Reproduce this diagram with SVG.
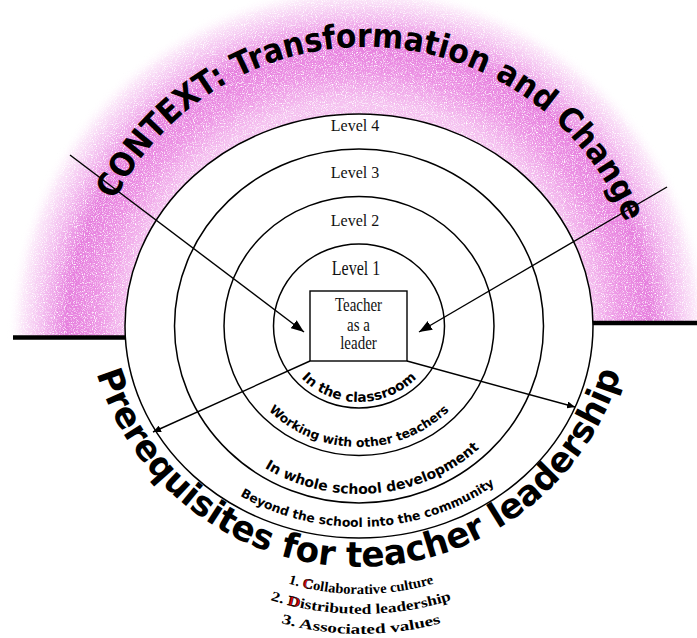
<svg xmlns="http://www.w3.org/2000/svg" width="697" height="638" viewBox="0 0 697 638">
<style>
.ring{fill:none;stroke:#000;stroke-width:1.5}
.lvl{font-family:"Liberation Serif",serif;font-size:16px;fill:#111;text-anchor:middle}
.box{font-family:"Liberation Serif",serif;font-size:15px;fill:#111;text-anchor:middle}
.arc{font-family:"DejaVu Sans",sans-serif;font-weight:bold;fill:#000}
.big{font-family:"DejaVu Sans",sans-serif;font-weight:bold;fill:#000}
.list{font-family:"Liberation Serif",serif;font-weight:bold;font-size:14px;fill:#000}
.conn{stroke:#000;stroke-width:1.4;fill:none}
.bar{stroke:#000;stroke-width:4.5}
</style>
<defs>
<radialGradient id="pinkGrad" gradientUnits="userSpaceOnUse" cx="359" cy="335" r="352">
<stop offset="0" stop-color="#f6c8f1"/>
<stop offset="0.66" stop-color="#f5c2f0"/>
<stop offset="0.75" stop-color="#ec92e4"/>
<stop offset="0.83" stop-color="#e67ede"/>
<stop offset="0.9" stop-color="#f3bcef"/>
<stop offset="0.96" stop-color="#fbe8f9"/>
<stop offset="1" stop-color="#ffffff" stop-opacity="0"/>
</radialGradient>
<filter id="speckle" filterUnits="userSpaceOnUse" x="0" y="0" width="697" height="638">
<feTurbulence type="fractalNoise" baseFrequency="0.9" numOctaves="2" seed="4" result="n"/>
<feColorMatrix in="n" type="matrix" values="0 0 0 0 0  0 0 0 0 0  0 0 0 0 0  3 0 0 0 -0.55" result="m"/>
<feComposite in="SourceGraphic" in2="m" operator="in"/>
</filter>
<marker id="headBig" viewBox="0 0 13 10" refX="13" refY="5" markerWidth="13" markerHeight="10" markerUnits="userSpaceOnUse" orient="auto">
<path d="M0,0 L13,5 L0,10 z" fill="#000"/>
</marker>
<marker id="headSmall" viewBox="0 0 8 7" refX="8" refY="3.5" markerWidth="8" markerHeight="7" markerUnits="userSpaceOnUse" orient="auto">
<path d="M0,0 L8,3.5 L0,7 z" fill="#000"/>
</marker>
<path id="pContext" d="M114.6,200.4 A281,281 0 0 1 625.5,222.7"/>
<path id="pPrereq" d="M96.5,373.1 A274,274 0 0 0 620.5,373.1"/>
<path id="p1" d="M280,326 A79,76 0 0 0 438,326"/>
<path id="p2" d="M233,326 A126,121 0 0 0 485,326"/>
<path id="p3" d="M183,326 A176,168 0 0 0 535,326"/>
<path id="p4" d="M137,326 A222,201 0 0 0 581,326"/>
<path id="l1" d="M261,574 A260,260 0 0 0 461,574"/>
<path id="l2" d="M251,593 A300,300 0 0 0 471,593"/>
<path id="l3" d="M251,613 A300,300 0 0 0 471,613"/>
</defs>

<g id="context">
<path d="M0,339 L697,322 L697,0 L0,0 Z" fill="url(#pinkGrad)" filter="url(#speckle)"/>
<line class="bar" x1="13" y1="337.5" x2="127" y2="337.5"/>
<line class="bar" x1="593" y1="323" x2="697" y2="323"/>
<text class="big" font-size="33"><textPath href="#pContext" textLength="642" lengthAdjust="spacingAndGlyphs">CONTEXT: Transformation and Change</textPath></text>
</g>

<g id="level4">
<ellipse class="ring" cx="359" cy="326" rx="234" ry="212" style="fill:#fff"/>
<text class="lvl" x="355" y="131">Level 4</text>
</g>
<g id="level3">
<ellipse class="ring" cx="359" cy="326" rx="184.5" ry="177"/>
<text class="lvl" x="355" y="178">Level 3</text>
</g>
<g id="level2">
<ellipse class="ring" cx="359" cy="326" rx="135" ry="129.5"/>
<text class="lvl" x="355" y="226">Level 2</text>
</g>
<g id="level1">
<ellipse class="ring" cx="359" cy="326" rx="85.5" ry="82"/>
<text class="lvl" transform="translate(356,275) scale(1,1.3)">Level 1</text>
</g>

<g id="teacher-leader">
<rect x="310" y="291" width="97" height="70" fill="#fff" stroke="#000" stroke-width="1.4"/>
<text class="box" transform="translate(358.5,311) scale(1,1.2)">Teacher</text>
<text class="box" transform="translate(358.5,331) scale(1,1.2)">as a</text>
<text class="box" transform="translate(358.5,349) scale(1,1.2)">leader</text>
</g>

<g id="connectors">
<line class="conn" x1="70" y1="155" x2="304" y2="332" marker-end="url(#headBig)"/>
<line class="conn" x1="667" y1="187" x2="419" y2="332" marker-end="url(#headBig)"/>
<line class="conn" x1="310" y1="361" x2="153" y2="432" marker-end="url(#headSmall)"/>
<line class="conn" x1="407" y1="361" x2="575" y2="407" marker-end="url(#headSmall)"/>
</g>

<g id="ring-labels">
<text class="arc" font-size="13.5"><textPath href="#p1" startOffset="50%" text-anchor="middle" textLength="128" lengthAdjust="spacingAndGlyphs">In the classroom</textPath></text>
<text class="arc" font-size="12.5"><textPath href="#p2" startOffset="50%" text-anchor="middle" textLength="200" lengthAdjust="spacingAndGlyphs">Working with other teachers</textPath></text>
<text class="arc" font-size="14"><textPath href="#p3" startOffset="53%" text-anchor="middle" textLength="231" lengthAdjust="spacingAndGlyphs">In whole school development</textPath></text>
<text class="arc" font-size="12.5"><textPath href="#p4" startOffset="51.5%" text-anchor="middle" textLength="269" lengthAdjust="spacingAndGlyphs">Beyond the school into the community</textPath></text>
</g>

<g id="prerequisites">
<text class="big" font-size="35"><textPath href="#pPrereq" textLength="698" lengthAdjust="spacingAndGlyphs">Prerequisites for teacher leadership</textPath></text>
<text class="list"><textPath href="#l1" startOffset="50%" text-anchor="middle" textLength="148" lengthAdjust="spacingAndGlyphs">1. <tspan fill="#e00000" stroke="#000" stroke-width="0.6">C</tspan>ollaborative culture</textPath></text>
<text class="list"><textPath href="#l2" startOffset="50%" text-anchor="middle" textLength="184" lengthAdjust="spacingAndGlyphs">2. <tspan fill="#e00000" stroke="#000" stroke-width="0.6">D</tspan>istributed leadership</textPath></text>
<text class="list"><textPath href="#l3" startOffset="50%" text-anchor="middle" textLength="162" lengthAdjust="spacingAndGlyphs">3. Associated values</textPath></text>
</g>
</svg>
